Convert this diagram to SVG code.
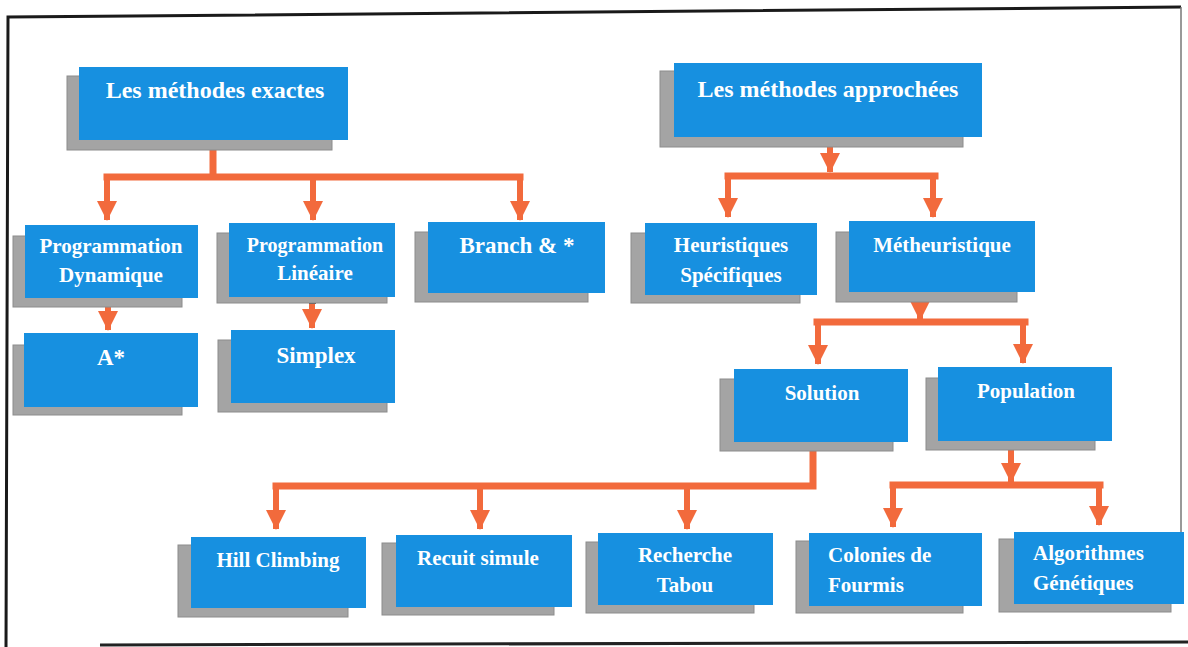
<svg xmlns="http://www.w3.org/2000/svg" width="1188" height="647" viewBox="0 0 1188 647">
<defs>
<style>
.sh{fill:#a4a4a4;stroke:#8c8c8c;stroke-width:1}
.bx{fill:#1790e0}
.t{font-family:"Liberation Serif","Times New Roman",serif;font-weight:bold;fill:#ffffff;font-size:21px;text-anchor:middle}
.l{text-anchor:start}
.h{font-size:24px}
.m{font-size:23px}
.bar{fill:none;stroke:#f26a3c;stroke-width:7;stroke-linejoin:miter;stroke-linecap:square}
.drop{fill:none;stroke:#f26a3c;stroke-width:6}
.dot{fill:#5a4a44}
</style>
<marker id="ah" markerUnits="userSpaceOnUse" markerWidth="22" markerHeight="20" refX="11" refY="19" orient="auto-start-reverse" viewBox="0 0 22 20">
<path d="M0,0 L22,0 L11,20 Z" fill="#f26a3c" transform="rotate(0)"/>
</marker>
<marker id="ahd" markerUnits="userSpaceOnUse" markerWidth="20" markerHeight="20" refX="10" refY="19" orient="0" viewBox="0 0 20 20">
<path d="M0,0 L20,0 L10,20 Z" fill="#f26a3c"/>
</marker>
</defs>
<rect width="1188" height="647" fill="#ffffff"/>
<g id="frame" fill="none" stroke="#1a1a1a" stroke-width="3">
<polyline points="6,647 8,17 1181,7"/>
<line x1="1181" y1="7" x2="1181" y2="600" stroke="#777" stroke-width="1.5"/>
<line x1="100" y1="645" x2="1188" y2="642" stroke="#222" stroke-width="3"/>
</g>

<g id="connectors">
<!-- exactes -->
<path class="bar" d="M213,140 V177 M107,177 H520"/>
<path class="drop" d="M107,177 V220" marker-end="url(#ahd)"/>
<path class="drop" d="M313,177 V220" marker-end="url(#ahd)"/>
<path class="drop" d="M520,177 V220" marker-end="url(#ahd)"/>
<rect class="dot" x="210" y="140" width="7" height="9"/>
<!-- PD -> A* -->
<path class="drop" d="M108,298 V330" marker-end="url(#ahd)"/>
<rect class="dot" x="105" y="298" width="7" height="8"/>
<!-- PL -> Simplex -->
<path class="drop" d="M312,297 V328" marker-end="url(#ahd)"/>
<rect class="dot" x="309" y="297" width="7" height="7"/>
<!-- approchees -->
<path class="drop" d="M830,137 V172" marker-end="url(#ahd)"/>
<path class="bar" d="M728,176 H935"/>
<path class="drop" d="M728,176 V217" marker-end="url(#ahd)"/>
<path class="drop" d="M933,176 V217" marker-end="url(#ahd)"/>
<rect class="dot" x="827" y="137" width="7" height="9"/>
<!-- metheuristique -->
<path class="drop" d="M920,292 V320" marker-end="url(#ahd)"/>
<path class="bar" d="M817,322 H1025"/>
<path class="drop" d="M818,322 V364" marker-end="url(#ahd)"/>
<path class="drop" d="M1023,322 V363" marker-end="url(#ahd)"/>
<rect class="dot" x="917" y="292" width="7" height="9"/>
<!-- solution -->
<path class="bar" d="M813,442 V486 H276"/>
<path class="drop" d="M276,486 V529" marker-end="url(#ahd)"/>
<path class="drop" d="M480,486 V529" marker-end="url(#ahd)"/>
<path class="drop" d="M687,486 V529" marker-end="url(#ahd)"/>
<rect class="dot" x="810" y="442" width="7" height="9"/>
<!-- population -->
<path class="drop" d="M1011,441 V482" marker-end="url(#ahd)"/>
<path class="bar" d="M893,485 H1100"/>
<path class="drop" d="M893,485 V527" marker-end="url(#ahd)"/>
<path class="drop" d="M1099,485 V525" marker-end="url(#ahd)"/>
<rect class="dot" x="1008" y="441" width="7" height="9"/>
</g>

<g id="n-exactes">
<rect class="sh" x="67" y="76" width="265" height="74"/>
<rect class="bx" x="79" y="67" width="269" height="73"/>
<text class="t h" x="215" y="98">Les méthodes exactes</text>
</g>
<g id="n-approchees">
<rect class="sh" x="660" y="71" width="303" height="76"/>
<rect class="bx" x="674" y="63" width="308" height="74"/>
<text class="t h" x="828" y="97">Les méthodes approchées</text>
</g>
<g id="n-prog-dyn">
<rect class="sh" x="13" y="236" width="169" height="71"/>
<rect class="bx" x="25" y="225" width="173" height="73"/>
<text class="t" x="111" y="253" font-size="20">Programmation</text>
<text class="t" x="111" y="282">Dynamique</text>
</g>
<g id="n-prog-lin">
<rect class="sh" x="217" y="233" width="170" height="70"/>
<rect class="bx" x="229" y="223" width="166" height="74"/>
<text class="t" x="315" y="252" style="font-size:20px">Programmation</text>
<text class="t" x="315" y="280">Linéaire</text>
</g>
<g id="n-branch">
<rect class="sh" x="415" y="232" width="173" height="70"/>
<rect class="bx" x="428" y="222" width="177" height="71"/>
<text class="t m" x="517" y="253">Branch &amp; *</text>
</g>
<g id="n-heuristiques">
<rect class="sh" x="631" y="233" width="169" height="70"/>
<rect class="bx" x="645" y="223" width="172" height="72"/>
<text class="t" x="731" y="252">Heuristiques</text>
<text class="t" x="731" y="282">Spécifiques</text>
</g>
<g id="n-metheuristique">
<rect class="sh" x="836" y="232" width="181" height="70"/>
<rect class="bx" x="849" y="221" width="186" height="71"/>
<text class="t" x="942" y="252">Métheuristique</text>
</g>
<g id="n-astar">
<rect class="sh" x="13" y="345" width="169" height="70"/>
<rect class="bx" x="24" y="333" width="174" height="74"/>
<text class="t m" x="111" y="365">A*</text>
</g>
<g id="n-simplex">
<rect class="sh" x="218" y="340" width="169" height="72"/>
<rect class="bx" x="231" y="330" width="164" height="73"/>
<text class="t m" x="316" y="363">Simplex</text>
</g>
<g id="n-solution">
<rect class="sh" x="720" y="379" width="173" height="72"/>
<rect class="bx" x="734" y="369" width="174" height="73"/>
<text class="t" x="822" y="400">Solution</text>
</g>
<g id="n-population">
<rect class="sh" x="926" y="378" width="169" height="72"/>
<rect class="bx" x="938" y="367" width="174" height="74"/>
<text class="t" x="1026" y="398">Population</text>
</g>
<g id="n-hill">
<rect class="sh" x="178" y="545" width="170" height="72"/>
<rect class="bx" x="191" y="537" width="175" height="71"/>
<text class="t" x="278" y="567">Hill Climbing</text>
</g>
<g id="n-recuit">
<rect class="sh" x="382" y="543" width="172" height="72"/>
<rect class="bx" x="396" y="535" width="176" height="72"/>
<text class="t" x="478" y="565">Recuit simule</text>
</g>
<g id="n-tabou">
<rect class="sh" x="586" y="542" width="168" height="71"/>
<rect class="bx" x="598" y="533" width="175" height="72"/>
<text class="t" x="685" y="562">Recherche</text>
<text class="t" x="685" y="592">Tabou</text>
</g>
<g id="n-colonies">
<rect class="sh" x="796" y="541" width="167" height="72"/>
<rect class="bx" x="809" y="533" width="173" height="73"/>
<text class="t l" x="828" y="562">Colonies de</text>
<text class="t l" x="828" y="592">Fourmis</text>
</g>
<g id="n-algorithmes">
<rect class="sh" x="999" y="539" width="172" height="73"/>
<rect class="bx" x="1014" y="532" width="170" height="72"/>
<text class="t l" x="1033" y="560">Algorithmes</text>
<text class="t l" x="1033" y="590">Génétiques</text>
</g>
</svg>
